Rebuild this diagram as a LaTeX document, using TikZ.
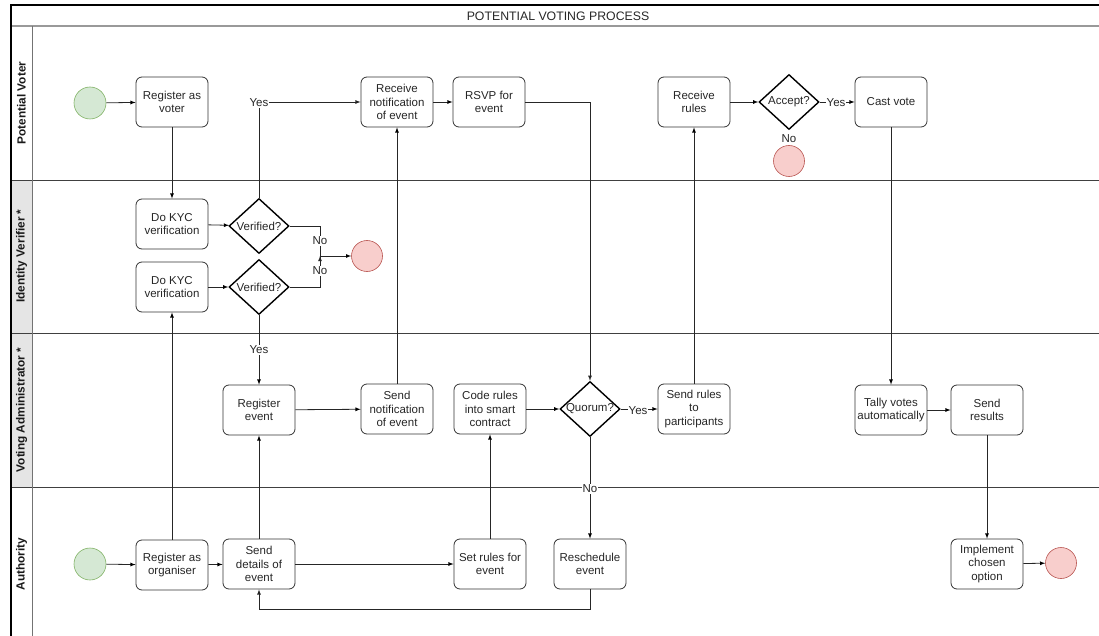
\documentclass[tikz,border=0pt]{standalone}
\usepackage{fontspec}
\setmainfont{Liberation Sans}
\usetikzlibrary{arrows,shapes.geometric}
\pgfdeclarelayer{background}
\pgfsetlayers{background,main}

\definecolor{startfill}{HTML}{D5E8D4}
\definecolor{startline}{HTML}{82B366}
\definecolor{stopfill}{HTML}{F8CECC}
\definecolor{stopline}{HTML}{B85450}

\tikzset{
  task/.style={draw=black!80, line width=0.8pt, rounded corners=6pt,
    minimum width=72pt, minimum height=50pt, align=center, inner sep=1pt,
    text=black!85, font=\fontsize{11.5}{13.5}\selectfont},
  gate/.style={diamond, draw=black, line width=1.4pt, minimum width=60pt,
    minimum height=55pt, inner sep=0pt,
    label={[text=black!85, font=\fontsize{11.5}{13.5}\selectfont]center:#1}},
  start/.style={circle, draw=startline, fill=startfill, line width=0.6pt, minimum size=32pt},
  stop/.style={circle, draw=stopline, fill=stopfill, line width=0.6pt, minimum size=31pt},
  lbl/.style={fill=white, inner sep=1pt, text=black!85, font=\fontsize{11.5}{13.5}\selectfont},
  lane/.style={font=\fontsize{11.8}{13}\selectfont\bfseries, text=black!90},
  flow/.style={->, >=latex, draw=black!85, line width=0.8pt}
}

\begin{document}
\begin{tikzpicture}[x=1pt,y=-1pt]
\clip (0,0) rectangle (1099,636);

% pool and lanes
\begin{pgfonlayer}{background}
\fill[black!10] (11,180) rectangle (32,487);
\draw[black!40, line width=1.2pt] (11,26) -- (1110,26);
\draw[black!75, line width=0.8pt] (11,180) -- (1110,180);
\draw[black!75, line width=0.8pt] (11,333) -- (1110,333);
\draw[black!75, line width=0.8pt] (11,487) -- (1110,487);
\draw[black!55, line width=0.8pt] (32,26) -- (32,645);
\draw[black, line width=1.3pt] (11,645) -- (11,5) -- (1110,5);
\end{pgfonlayer}

\node[font=\fontsize{12.3}{13}\selectfont, text=black!85] (T) at (558,16) {POTENTIAL VOTING PROCESS};

\node[lane, rotate=90] (L1) at (21.5,103) {Potential Voter};
\node[lane, rotate=90] (L2) at (21.5,256) {Identity Verifier *};
\node[lane, rotate=90] (L3) at (21.5,410) {Voting Administrator *};
\node[lane, rotate=90] (L4) at (21.5,564) {Authority};

% Potential Voter
\node[start] (P0) at (90,103) {};
\node[task] (P1) at (172,102) {Register as\\voter};
\node[task] (P2) at (397,102) {Receive\\notification\\of event};
\node[task] (P3) at (489,102) {RSVP for\\event};
\node[task] (P4) at (694,102) {Receive\\rules};
\node[gate=Accept?] (P5) at (789,102) {};
\node[task] (P6) at (891,102) {Cast vote};
\node[stop] (P7) at (789,161) {};

% Identity Verifier
\node[task] (I1) at (172,224) {Do KYC\\verification};
\node[gate=Verified?] (I2) at (259,226) {};
\node[task] (I3) at (172,287) {Do KYC\\verification};
\node[gate=Verified?] (I4) at (259,287) {};
\coordinate (J) at (320,256);
\node[stop] (I5) at (367,256) {};

% Voting Administrator
\node[task] (V1) at (259,410) {Register\\event};
\node[task] (V2) at (397,409) {Send\\notification\\of event};
\node[task] (V3) at (490,409) {Code rules\\into smart\\contract};
\node[gate=Quorum?] (V4) at (590,409) {};
\node[task] (V5) at (694,409) {Send rules\\to\\participants};
\node[task] (V6) at (891,410) {Tally votes\\automatically};
\node[task] (V7) at (987,410) {Send\\results};

% Authority
\node[start] (A0) at (90,564) {};
\node[task] (A1) at (172,565) {Register as\\organiser};
\node[task] (A2) at (259,564) {Send\\details of\\event};
\node[task] (A3) at (490,564) {Set rules for\\event};
\node[task] (A4) at (590,564) {Reschedule\\event};
\node[task] (A5) at (987,564) {Implement\\chosen\\option};
\node[stop] (A6) at (1061,563) {};

\path[flow] (P0) edge (P1);
\path[flow] (P1) edge (I1);
\path[flow] (I1) edge (I2);
\path[flow] (I3) edge (I4);
\path[flow] (A0) edge (A1);
\path[flow] (A1) edge (A2);
\path[flow] (A1) edge (I3);
\path[flow] (A2) edge (V1);
\path[flow] (A2) edge (A3);
\path[flow] (A3) edge (V3);
\path[flow] (V1) edge (V2);
\path[flow] (V2) edge (P2);
\path[flow] (P2) edge (P3);
\path[flow] (V3) edge (V4);
\path[flow] (V4) edge (V5);
\path[flow] (V5) edge (P4);
\path[flow] (P4) edge (P5);
\path[flow] (P5) edge (P6);
\path[flow] (P6) edge (V6);
\path[flow] (V6) edge (V7);
\path[flow] (V7) edge (A5);
\path[flow] (A5) edge (A6);
\path[flow] (I4) edge (V1);
\path[flow] (V4) edge (A4);
\path[flow] (J) edge (I5);

\draw[flow] (I2.north) |- (P2.west);
\draw[flow] (P3.east) -| (V4.north);
\draw[flow] (A4.south) -- ++(0,20) -| (A2.south);
\draw[black!85, line width=0.8pt] (I2.east) -| (J);
\draw[black!85, line width=0.8pt] (I4.east) -| (J);

\node[lbl] (Y1) at (259,103) {Yes};
\node[lbl] (Y2) at (259,350) {Yes};
\node[lbl] (Y3) at (638,411) {Yes};
\node[lbl] (Y4) at (836,103) {Yes};
\node[lbl] (N1) at (320,241) {No};
\node[lbl] (N2) at (320,271) {No};
\node[lbl] (N3) at (590,489) {No};
\node[lbl] (N4) at (789,139) {No};
\end{tikzpicture}
\end{document}
